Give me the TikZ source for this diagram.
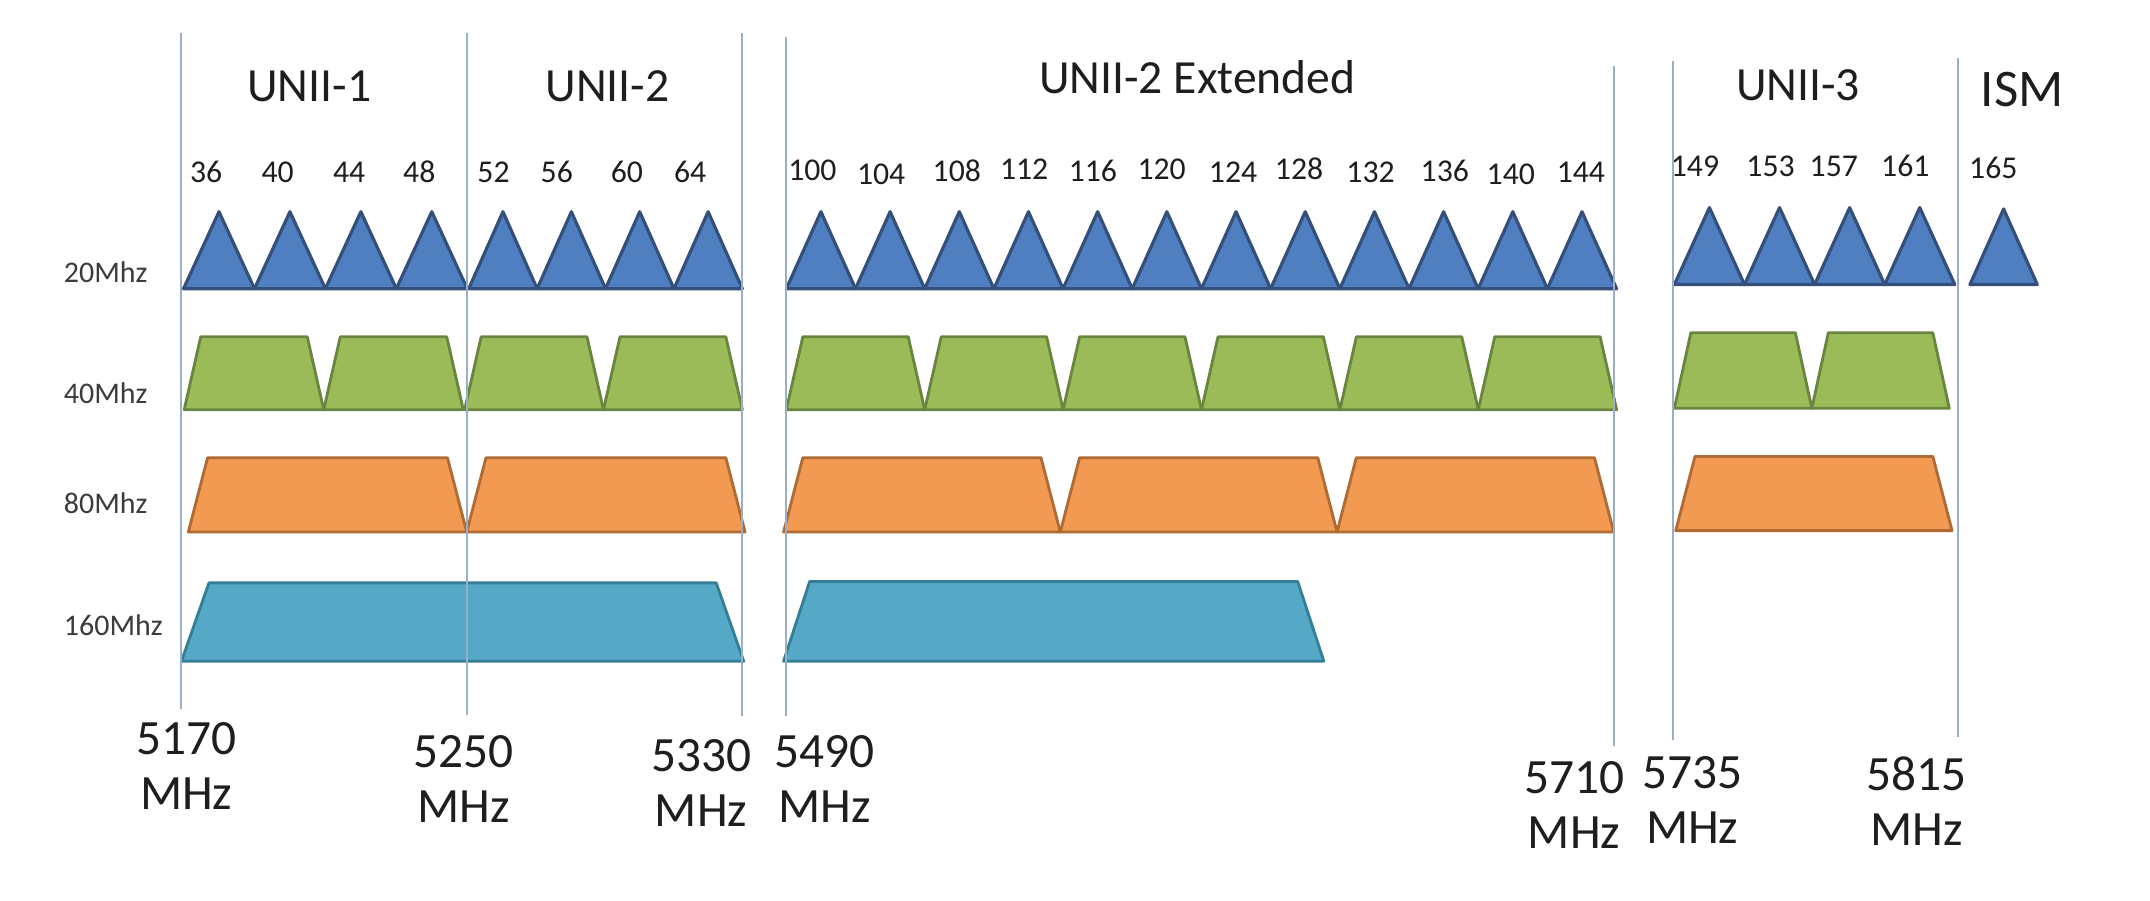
\documentclass[tikz,border=0pt]{standalone}
\usepackage{fontspec}
\setmainfont{Carlito}
\usepackage{tikz}
\definecolor{txt}{HTML}{1E1E1E}
\definecolor{lbl}{HTML}{3C3C3C}
\definecolor{divcol}{HTML}{9AAEC8}
\definecolor{bluefill}{HTML}{4F7FC0}
\definecolor{bluedraw}{HTML}{34507A}
\definecolor{greenfill}{HTML}{9BBB59}
\definecolor{greendraw}{HTML}{6A8540}
\definecolor{orangefill}{HTML}{F29A52}
\definecolor{orangedraw}{HTML}{B06A34}
\definecolor{tealfill}{HTML}{55A9C7}
\definecolor{tealdraw}{HTML}{357F96}
\tikzset{
    band/.style ={font=\fontsize{13.5}{16}\selectfont, text=txt},
    chan/.style ={font=\fontsize{9}{11}\selectfont, text=txt},
    rowlbl/.style ={font=\fontsize{8.5}{10}\selectfont, text=lbl, anchor=west, inner sep=0pt},
    freq/.style ={font=\fontsize{14}{15.6}\selectfont, text=txt, align=center, inner sep=0pt},
    divider/.style ={draw=divcol, line width=0.55pt},
    ch20/.style ={fill=bluefill, draw=bluedraw, line width=0.9pt, line join=round},
    ch40/.style ={fill=greenfill, draw=greendraw, line width=0.8pt, line join=round},
    ch80/.style ={fill=orangefill, draw=orangedraw, line width=0.8pt, line join=round},
    ch160/.style ={fill=tealfill, draw=tealdraw, line width=0.8pt, line join=round}
}
% style, left x, width, count, top y, bottom y, inset
\newcommand{\chanrow}[7]{%
  \foreach \k in {1,...,#4}
    \draw[#1] ({#2+(\k-1)*#3},#6) -- ({#2+(\k-1)*#3+#7},#5)
      -- ({#2+\k*#3-#7},#5) -- ({#2+\k*#3},#6) -- cycle;
}

\begin{document}
\begin{tikzpicture}[x=0.39pt, y=-0.39pt]
\useasboundingbox[fill=white] (0,0) rectangle (1564,655);

% Band names
\node[band] (u1) at (225,63) {UNII-1};
\node[band] (u2) at (442,63) {UNII-2};
\node[band] (u2e) at (871,56) {UNII-2 Extended};
\node[band] (u3) at (1308,62) {UNII-3};
\node[band, font=\fontsize{15}{18}\selectfont] (ism) at (1471,65) {ISM};

% Channel numbers
\foreach \ch/\x/\y in {36/150/125,40/202/125,44/254/125,48/305/125,
    52/359/125,56/405/125,60/456/125,64/502/125,
    100/591/124,104/641/127,108/696/124,112/745/123,116/795/124,120/845/123,
    124/897/125,128/945/123,132/997/125,136/1051/124,140/1099/127,144/1150/125,
    149/1233/121,153/1288/121,157/1334/121,161/1386/121,165/1450/122}
  \node[chan] (c\ch) at (\x,\y) {\ch};

% Channel widths
\node[rowlbl] (r20) at (46,198) {20Mhz};
\node[rowlbl] (r40) at (46,286) {40Mhz};
\node[rowlbl] (r80) at (46,366) {80Mhz};
\node[rowlbl] (r160) at (46,455) {160Mhz};

% 20 MHz
\chanrow{ch20}{133.5}{51.6}{4}{154}{210}{25.8}
\chanrow{ch20}{341}{49.75}{4}{154}{210}{24.875}
\chanrow{ch20}{572}{50.33}{12}{154}{210}{25.165}
\chanrow{ch20}{1218}{51}{4}{151}{207}{25.5}
\chanrow{ch20}{1433}{49}{1}{152}{207}{24.5}
% 40 MHz
\chanrow{ch40}{134}{101.5}{2}{245}{298}{12}
\chanrow{ch40}{338}{101}{2}{245}{298}{12}
\chanrow{ch40}{572}{100.67}{6}{245}{298}{12}
\chanrow{ch40}{1218}{100}{2}{242}{297}{12}
% 80 MHz
\chanrow{ch80}{137}{202.5}{2}{333}{387}{14}
\chanrow{ch80}{570}{201.3}{3}{333}{387}{14}
\chanrow{ch80}{1219}{201}{1}{332}{386}{14}
% 160 MHz
\chanrow{ch160}{132}{409}{1}{424}{481}{20}
\chanrow{ch160}{570}{393}{1}{423}{481}{19}

% Band edges
\foreach \x/\t/\b in {131.5/24/516,339.5/24/520,539.5/24/521,572/27/521,
    1174/48/543,1217/44/538,1424/42/536}
  \draw[divider] (\x,\t) -- (\x,\b);

% Frequencies
\node[freq] (f5170) at (135.5,557) {5170\\MHz};
\node[freq] (f5250) at (337.5,566.5) {5250\\MHz};
\node[freq] (f5330) at (510,569.5) {5330\\MHz};
\node[freq] (f5490) at (600,567) {5490\\MHz};
\node[freq] (f5710) at (1145,585.5) {5710\\MHz};
\node[freq] (f5735) at (1231,582) {5735\\MHz};
\node[freq] (f5815) at (1394,583) {5815\\MHz};

\end{tikzpicture}
\end{document}
